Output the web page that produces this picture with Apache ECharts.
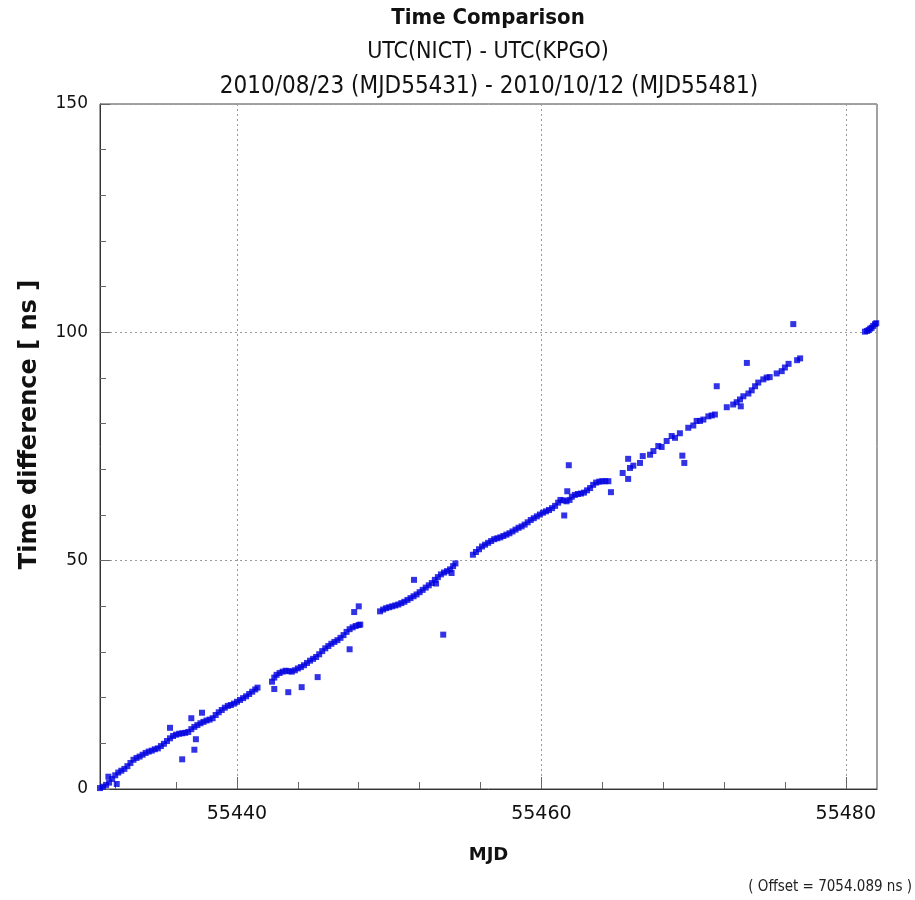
<!DOCTYPE html>
<html>
<head>
<meta charset="utf-8">
<script src="https://cdn.jsdelivr.net/npm/echarts@6/dist/echarts.min.js"></script>
<style>html,body{margin:0;padding:0;background:#fff}#c{width:915px;height:900px}</style>
</head>
<body>
<div id="c"></div>
<script>
// ---- tick labels / ticks ----
const xTickLabels = [55440, 55460, 55480];
const xMinorTicks = [55432, 55436, 55444, 55448, 55452, 55456, 55464, 55468, 55472, 55476];
const yTickValues = [0, 50, 100, 150];

// ---- data segments [MJD, ns] ----
const segment1 = [
  [55431.0,0.2],[55431.2,0.5],[55431.4,0.9],[55431.6,1.4],[55431.8,2.2],[55432.0,3.0],[55432.2,3.6],[55432.4,4.0],
  [55432.6,4.4],[55432.8,5.0],[55433.0,5.7],[55433.2,6.4],[55433.4,6.8],[55433.6,7.1],[55433.8,7.5],[55434.0,7.9],
  [55434.2,8.2],[55434.4,8.4],[55434.6,8.7],[55434.8,8.9],[55435.0,9.4],[55435.2,9.9],[55435.4,10.5],[55435.6,11.1],
  [55435.8,11.6],[55436.0,11.9],[55436.2,12.1],[55436.4,12.2],[55436.6,12.3],[55436.8,12.5],[55437.0,13.1],[55437.2,13.6],
  [55437.4,14.0],[55437.6,14.4],[55437.8,14.7],[55438.0,15.0],[55438.2,15.2],[55438.4,15.5],[55438.6,16.2],[55438.8,16.8],
  [55439.0,17.3],[55439.2,17.8],[55439.4,18.2],[55439.6,18.4],[55439.8,18.7],[55440.0,19.1],[55440.2,19.5],[55440.4,19.9],
  [55440.6,20.3],[55440.8,20.8],[55441.0,21.3],[55441.2,21.8],[55441.35,22.2]
];
const segment2 = [
  [55442.3,23.5],[55442.45,24.4],[55442.6,25.0],[55442.8,25.4],[55443.0,25.7],[55443.2,25.9],[55443.4,25.8],[55443.6,25.7],
  [55443.8,26.0],[55444.0,26.4],[55444.2,26.7],[55444.4,27.1],[55444.6,27.6],[55444.8,28.1],[55445.0,28.5],[55445.2,28.9],
  [55445.4,29.5],[55445.6,30.2],[55445.8,30.8],[55446.0,31.3],[55446.2,31.8],[55446.4,32.2],[55446.6,32.6],[55446.8,33.1],
  [55447.0,33.7],[55447.2,34.4],[55447.4,35.0],[55447.6,35.4],[55447.8,35.7],[55448.0,35.9],[55448.1,36.0]
];
const segment3 = [
  [55449.4,38.9],[55449.6,39.3],[55449.8,39.6],[55450.0,39.8],[55450.2,40.0],[55450.4,40.2],[55450.6,40.4],[55450.8,40.7],
  [55451.0,41.0],[55451.2,41.4],[55451.4,41.8],[55451.6,42.2],[55451.8,42.6],[55452.0,43.1],[55452.2,43.6],[55452.4,44.1],
  [55452.6,44.6],[55452.8,45.1],[55453.0,45.8],[55453.2,46.4],[55453.4,47.0],[55453.6,47.4],[55453.8,47.7],[55454.0,48.1],
  [55454.2,48.8],[55454.35,49.4]
];
const segment4 = [
  [55455.5,51.3],[55455.7,51.9],[55455.9,52.5],[55456.1,53.1],[55456.3,53.5],[55456.5,53.9],[55456.7,54.3],[55456.9,54.7],
  [55457.1,54.9],[55457.3,55.1],[55457.5,55.4],[55457.7,55.7],[55457.9,56.0],[55458.1,56.4],[55458.3,56.8],[55458.5,57.2],
  [55458.7,57.5],[55458.9,57.9],[55459.1,58.4],[55459.3,58.9],[55459.5,59.3],[55459.7,59.7],[55459.9,60.1],[55460.1,60.5],
  [55460.3,60.8],[55460.5,61.1],[55460.7,61.5],[55460.9,62.0],[55461.1,62.7],[55461.25,63.3],[55461.45,63.2],[55461.65,63.0],
  [55461.85,63.3],[55462.0,64.0],[55462.2,64.4],[55462.4,64.6],[55462.6,64.7],[55462.8,64.9],[55463.0,65.4],[55463.2,65.9],
  [55463.4,66.6],[55463.6,67.1],[55463.8,67.3],[55464.0,67.4],[55464.2,67.4],[55464.4,67.4]
];
const segment5 = [
  [55465.34,69.2],[55465.82,70.3],[55466.04,70.8],[55466.48,71.4],[55466.66,72.9],[55467.14,73.2],[55467.36,74.0],[55467.68,75.1],
  [55467.9,74.9],[55468.23,76.2],[55468.56,77.3],[55468.78,76.9],[55469.1,77.9],[55469.65,79.1],[55469.98,79.6],[55470.2,80.6],
  [55470.42,80.6],[55470.64,80.9],[55470.97,81.6],[55471.19,81.8],[55471.4,82.0],[55472.18,83.6],[55472.6,84.2],[55472.83,84.7],
  [55473.05,85.3],[55473.27,86.0],[55473.6,86.6],[55473.82,87.3],[55474.04,88.2],[55474.25,89.0],[55474.58,89.7],[55474.8,90.1],
  [55475.0,90.2],[55475.46,91.0],[55475.79,91.5],[55476.0,92.3],[55476.24,93.1],[55476.8,93.9],[55477.0,94.3]
];
const segment6 = [
  [55481.26,100.15],[55481.4,100.3],[55481.5,100.5],[55481.6,100.8],[55481.7,101.0],[55481.8,101.4],[55481.92,101.8],[55482.0,102.0]
];
const outliers = [
  [55431.55,2.7],[55432.1,1.1],[55435.6,13.4],[55436.4,6.5],[55437.0,15.5],[55437.2,8.6],[55437.3,10.9],[55437.7,16.7],
  [55442.45,21.9],[55443.37,21.2],[55444.25,22.3],[55445.3,24.5],[55447.4,30.6],[55447.7,38.75],[55448.0,40.0],
  [55451.63,45.8],[55453.08,45.0],[55453.55,33.8],[55454.1,47.3],[55461.5,59.9],[55461.7,65.2],[55461.8,70.9],
  [55464.57,65.0],[55465.7,67.9],[55465.7,72.3],[55469.26,73.0],[55469.39,71.4],[55471.52,88.2],[55473.1,83.8],
  [55473.5,93.3],[55476.55,101.8]
];

const titleLines = ['Time Comparison', 'UTC(NICT) - UTC(KPGO)', '2010/08/23 (MJD55431) - 2010/10/12 (MJD55481)'];
const offsetNote = '( Offset = 7054.089 ns )';

const chart = echarts.init(document.getElementById('c'), null, {renderer: 'canvas'});
const X_MIN = 55431, X_MAX = 55482.05;
const dotColor = '#0000e0';
const allData = [].concat(segment1, segment2, segment3, segment4, segment5, segment6, outliers);

chart.setOption({
  animation: false,
  backgroundColor: '#ffffff',
  grid: {left: 100, right: 38, top: 104, bottom: 111, show: true, borderColor: '#444', borderWidth: 1, containLabel: false, outerBoundsMode: 'none'},
  graphic: [
    {type: 'text', x: 488, y: 18, style: {text: titleLines[0], textAlign: 'center', textVerticalAlign: 'middle', fill: '#111', font: 'bold 22px "DejaVu Sans Condensed", "DejaVu Sans", sans-serif'}},
    {type: 'text', x: 488, y: 52, style: {text: titleLines[1], textAlign: 'center', textVerticalAlign: 'middle', fill: '#111', font: '23px "DejaVu Sans Condensed", "DejaVu Sans", sans-serif'}},
    {type: 'text', x: 489, y: 87, style: {text: titleLines[2], textAlign: 'center', textVerticalAlign: 'middle', fill: '#111', font: '24px "DejaVu Sans Condensed", "DejaVu Sans", sans-serif'}},
    {type: 'text', right: 3, top: 880, style: {text: offsetNote, fill: '#222', font: '15px "DejaVu Sans Condensed", "DejaVu Sans", sans-serif'}}
  ],
  xAxis: [
    {
      type: 'value', min: X_MIN, max: X_MAX, position: 'bottom',
      name: 'MJD', nameLocation: 'middle', nameGap: 57,
      nameTextStyle: {fontFamily: 'DejaVu Sans', fontWeight: 'bold', fontSize: 18, color: '#111'},
      axisLine: {show: true, onZero: false, lineStyle: {color: '#333', width: 1}},
      axisTick: {show: true, inside: true, length: 7, customValues: xMinorTicks, lineStyle: {color: '#666'}},
      axisLabel: {show: true, customValues: xTickLabels, margin: 16, fontFamily: 'DejaVu Sans', fontSize: 19, color: '#111', formatter: v => String(v)},
      splitLine: {show: false}
    },
    {
      type: 'value', min: X_MIN, max: X_MAX, position: 'bottom',
      axisLine: {show: false, onZero: false},
      axisTick: {show: true, inside: true, length: 12, customValues: xTickLabels, lineStyle: {color: '#666'}},
      axisLabel: {show: false},
      splitLine: {show: true, lineStyle: {color: '#9a9a9a', type: [2, 3], width: 1}}
    }
  ],
  yAxis: {
    type: 'value', min: yTickValues[0], max: yTickValues[yTickValues.length - 1], interval: 50,
    name: 'Time difference [ ns ]', nameLocation: 'middle', nameGap: 58, nameRotate: 90,
    nameTextStyle: {fontFamily: 'DejaVu Sans', fontWeight: 'bold', fontSize: 24, color: '#111', padding: [0, 0, 0, 44]},
    axisLine: {show: true, lineStyle: {color: '#333', width: 1}},
    axisTick: {show: true, inside: true, length: 10, lineStyle: {color: '#666'}},
    minorTick: {show: true, splitNumber: 5, length: 6, lineStyle: {color: '#666'}},
    axisLabel: {margin: 12, fontFamily: 'DejaVu Sans', fontSize: 17, color: '#111'},
    splitLine: {show: true, lineStyle: {color: '#9a9a9a', type: [2, 3], width: 1}}
  },
  series: [{
    type: 'scatter', xAxisIndex: 0, yAxisIndex: 0,
    symbol: 'rect', symbolSize: 6,
    itemStyle: {color: dotColor},
    data: allData
  }]
});
</script>
</body>
</html>
